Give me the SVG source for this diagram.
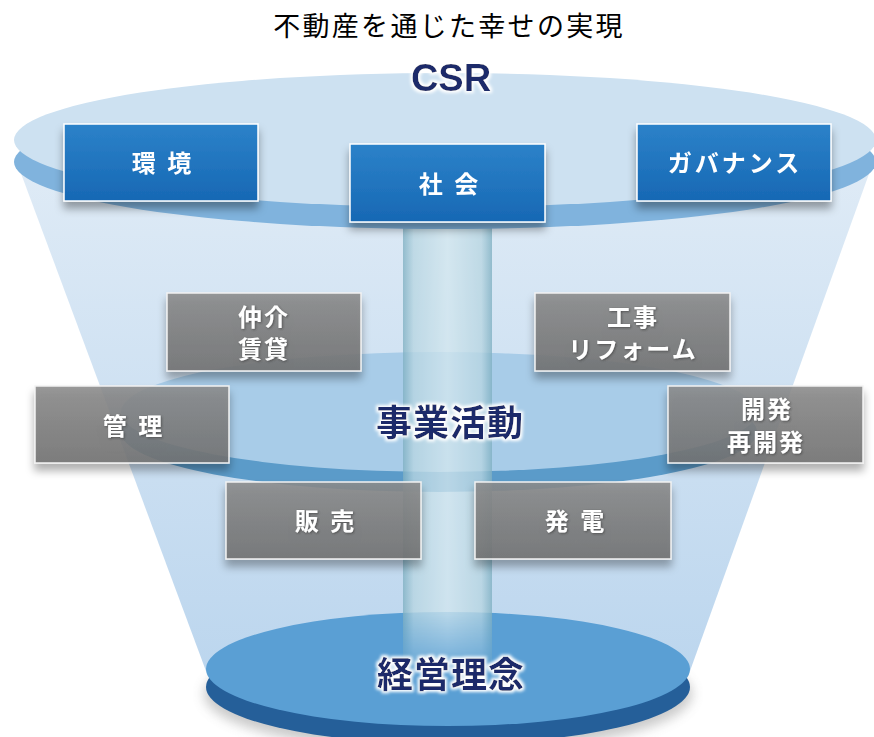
<svg xmlns="http://www.w3.org/2000/svg" width="874" height="737" viewBox="0 0 874 737">
<defs>
<style>
.jp{font-family:"Noto Sans CJK JP","Noto Sans",sans-serif}
.title{font-size:27px;font-weight:400;fill:#000;letter-spacing:2.3px}
.navy{font-weight:700;fill:#1b2a6b}
.bt{font-size:24px;font-weight:700;fill:#fff}
.gt{font-size:24px;font-weight:700;fill:#fff}
.blue{fill:url(#gBlue);stroke:#fff;stroke-width:1.5}
.gray{fill:url(#gGray);stroke:#f2f2f2;stroke-width:1.5}
</style>
<linearGradient id="gCone" x1="0" y1="0" x2="0" y2="1">
<stop offset="0" stop-color="#dfebf6"/><stop offset="1" stop-color="#bcd6ee"/>
</linearGradient>
<linearGradient id="gBlue" x1="0" y1="0" x2="0" y2="1">
<stop offset="0" stop-color="#2c82c9"/><stop offset="1" stop-color="#1768b4"/>
</linearGradient>
<linearGradient id="gGray" x1="0" y1="0" x2="0" y2="1">
<stop offset="0" stop-color="#8a8a8a" stop-opacity="0.88"/><stop offset="1" stop-color="#727272" stop-opacity="0.88"/>
</linearGradient>
<linearGradient id="gCol" x1="0" y1="0" x2="1" y2="0">
<stop offset="0" stop-color="#7fb0c2"/><stop offset="0.12" stop-color="#b8d6e2"/><stop offset="0.5" stop-color="#d3e7ef"/><stop offset="0.88" stop-color="#b8d6e2"/><stop offset="1" stop-color="#7fb0c2"/>
</linearGradient>
<linearGradient id="gColFade" x1="0" y1="0" x2="0" y2="1">
<stop offset="0" stop-color="#fff" stop-opacity="1"/><stop offset="0.85" stop-color="#fff" stop-opacity="1"/><stop offset="1" stop-color="#fff" stop-opacity="0"/>
</linearGradient>
<mask id="colMask"><rect x="400" y="222" width="95" height="460" fill="url(#gColFade)"/></mask>
<filter id="sh" x="-10%" y="-10%" width="120%" height="140%">
<feDropShadow dx="0" dy="7" stdDeviation="4" flood-color="#000" flood-opacity="0.35"/>
</filter>
<filter id="glow" x="-10%" y="-30%" width="120%" height="160%">
<feMorphology in="SourceAlpha" operator="dilate" radius="2" result="d"/>
<feGaussianBlur in="d" stdDeviation="1.5" result="b"/>
<feFlood flood-color="#fff"/>
<feComposite in2="b" operator="in" result="w"/>
<feMerge><feMergeNode in="w"/><feMergeNode in="SourceGraphic"/></feMerge>
</filter>
<filter id="tsh" x="-10%" y="-20%" width="120%" height="150%">
<feDropShadow dx="1" dy="1" stdDeviation="0.8" flood-color="#333" flood-opacity="0.6"/>
</filter>
<filter id="blur"><feGaussianBlur stdDeviation="6"/></filter>
</defs>

<rect width="874" height="737" fill="#fff"/>

<text class="jp title" x="449" y="36" text-anchor="middle">不動産を通じた幸せの実現</text>

<g id="funnel">
<polygon points="16,160 874,160 690,671 206,671" fill="url(#gCone)"/>
</g>

<g id="base-disc">
<ellipse cx="448" cy="694" rx="244" ry="58" fill="#888" opacity="0.45" filter="url(#blur)"/>
<ellipse cx="448" cy="687" rx="242" ry="57" fill="#255f99"/>
<ellipse cx="448" cy="669" rx="242" ry="57" fill="#5a9fd4"/>
</g>

<g id="middle-disc">
<ellipse cx="439" cy="432" rx="318" ry="60" fill="#5b9bc9"/>
<ellipse cx="439" cy="412" rx="318" ry="60" fill="#a8cce8"/>
</g>

<g id="column">
<rect x="403" y="222" width="89" height="458" fill="url(#gCol)" opacity="0.78" mask="url(#colMask)"/>
</g>

<g id="top-disc">
<ellipse cx="445" cy="162" rx="431" ry="67" fill="#80b3dd"/>
<ellipse cx="445" cy="140" rx="431" ry="67" fill="#cde1f1"/>
</g>

<g id="csr-label"><text class="navy" x="451" y="91" text-anchor="middle" font-size="38" font-family="'Liberation Sans',Arial,sans-serif" filter="url(#glow)">CSR</text></g>

<g id="node-kankyo" filter="url(#sh)">
<rect class="blue" x="64" y="124" width="194" height="77"/>
<text class="jp bt" x="163" y="172" text-anchor="middle" letter-spacing="3">環 境</text>
</g>
<g id="node-shakai" filter="url(#sh)">
<rect class="blue" x="350" y="144" width="195" height="78"/>
<text class="jp bt" x="450" y="193" text-anchor="middle" letter-spacing="3">社 会</text>
</g>
<g id="node-governance" filter="url(#sh)">
<rect class="blue" x="637" y="124" width="194" height="77"/>
<text class="jp bt" x="735" y="172" text-anchor="middle" letter-spacing="3">ガバナンス</text>
</g>

<g id="node-chukai" filter="url(#sh)">
<rect class="gray" x="167" y="293" width="194" height="78"/>
<g filter="url(#tsh)">
<text class="jp gt" x="264" y="326" text-anchor="middle" letter-spacing="2">仲介</text>
<text class="jp gt" x="264" y="358" text-anchor="middle" letter-spacing="2">賃貸</text>
</g>
</g>
<g id="node-koji" filter="url(#sh)">
<rect class="gray" x="535" y="293" width="195" height="78"/>
<g filter="url(#tsh)">
<text class="jp gt" x="633" y="326" text-anchor="middle" letter-spacing="2">工事</text>
<text class="jp gt" x="633" y="358" text-anchor="middle" letter-spacing="2">リフォーム</text>
</g>
</g>
<g id="node-kanri" filter="url(#sh)">
<rect class="gray" x="35" y="386" width="194" height="77"/>
<g filter="url(#tsh)"><text class="jp gt" x="134" y="435" text-anchor="middle" letter-spacing="3">管 理</text></g>
</g>
<g id="node-kaihatsu" filter="url(#sh)">
<rect class="gray" x="668" y="386" width="195" height="77"/>
<g filter="url(#tsh)">
<text class="jp gt" x="767" y="418" text-anchor="middle" letter-spacing="2">開発</text>
<text class="jp gt" x="766" y="451" text-anchor="middle" letter-spacing="2">再開発</text>
</g>
</g>
<g id="node-hanbai" filter="url(#sh)">
<rect class="gray" x="226" y="482" width="195" height="77"/>
<g filter="url(#tsh)"><text class="jp gt" x="326" y="530" text-anchor="middle" letter-spacing="3">販 売</text></g>
</g>
<g id="node-hatsuden" filter="url(#sh)">
<rect class="gray" x="475" y="482" width="196" height="77"/>
<g filter="url(#tsh)"><text class="jp gt" x="576" y="530" text-anchor="middle" letter-spacing="3">発 電</text></g>
</g>

<g id="label-jigyo"><text class="jp navy" x="450" y="436" text-anchor="middle" font-size="36" letter-spacing="1" filter="url(#glow)">事業活動</text></g>
<g id="label-keiei"><text class="jp navy" x="451" y="688" text-anchor="middle" font-size="36" letter-spacing="1" filter="url(#glow)">経営理念</text></g>

<g id="connectors"></g>
</svg>
